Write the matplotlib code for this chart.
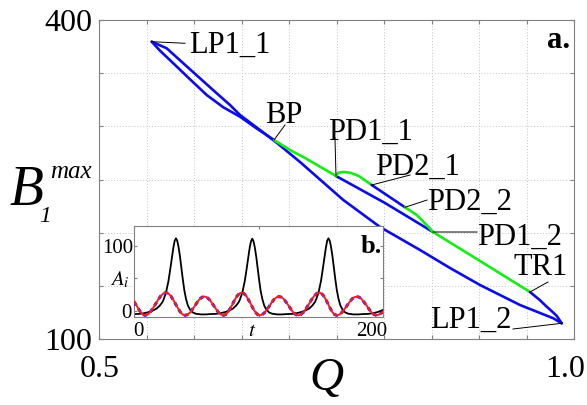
import matplotlib
matplotlib.use('Agg')
import matplotlib.pyplot as plt
from matplotlib.transforms import blended_transform_factory

plt.rcParams['font.family'] = ['Liberation Serif', 'DejaVu Serif']
plt.rcParams['mathtext.fontset'] = 'stix'

# ---------------- main panel data (Q, B1max) ----------------
# upper path: LP1_1 -> BP (blue)
up1_Q = [0.55547, 0.56421, 0.57821, 0.59579, 0.61337, 0.63084, 0.64842, 0.66526, 0.68421]
up1_B = [379.59, 371.13, 359.28, 344.23, 329.47, 317.90, 309.06, 298.43, 287.15]
# BP -> PD1_1 (green)
up2_Q = [0.68421, 0.70105, 0.71684, 0.74947]
up2_B = [287.15, 277.74, 270.22, 253.29]
# PD1_1 -> PD1_2 (blue)
up3_Q = [0.74947, 0.80105, 0.85158]
up3_B = [253.29, 227.90, 200.63]
# PD1_2 -> TR1 (green)
up4_Q = [0.85158, 0.90105, 0.95368]
up4_B = [200.63, 173.35, 144.20]
# TR1 -> LP1_2 (blue)
up5_Q = [0.95368, 0.96400, 0.97126, 0.97700, 0.98179, 0.98705]
up5_B = [144.20, 136.60, 130.38, 125.80, 121.80, 114.77]
# lower path LP1_1 -> LP1_2 (blue)
low_Q = [0.55547, 0.57126, 0.58874, 0.60632, 0.62389, 0.63789, 0.64842, 0.66947, 0.68737,
         0.71158, 0.75716, 0.79579, 0.83789, 0.86947, 0.90105, 0.94316, 0.97000, 0.97821, 0.98705]
low_B = [379.59, 373.39, 359.28, 345.17, 331.07, 320.06, 310.66, 296.55, 284.33,
         266.46, 230.72, 205.33, 183.70, 166.77, 150.78, 131.97, 122.40, 119.47, 114.77]
# period-doubled branch
pda_Q = [0.74947, 0.75189, 0.75716, 0.76421, 0.77295, 0.78705]
pda_B = [253.29, 256.39, 257.05, 256.39, 253.57, 244.83]
pdb_Q = [0.78705, 0.82211]
pdb_B = [244.83, 223.86]
pdc_Q = [0.82211, 0.83442, 0.84663, 0.85158]
pdc_B = [223.86, 216.61, 205.61, 200.63]

# labels: name, anchor point on curve, leader end, text position
label_names = ['LP1_1', 'BP', 'PD1_1', 'PD2_1', 'PD2_2', 'PD1_2', 'TR1', 'LP1_2']
label_pts = [(up1_Q[0], up1_B[0]), (up2_Q[0], up2_B[0]), (pda_Q[0], pda_B[0]),
             (pdb_Q[0], pdb_B[0]), (pdc_Q[0], pdc_B[0]), (up4_Q[0], up4_B[0]),
             (up5_Q[0], up5_B[0]), (up5_Q[-1], up5_B[-1])]
leader_end = [(0.5905, 378.1), (0.6958, 301.3), (0.7484, 289.0), (0.8274, 254.2),
              (0.8453, 230.7), (0.8979, 200.6), (0.9726, 153.6), (0.9358, 109.4)]
text_pos = [(0.5947, 369.3), (0.6747, 303.1), (0.7411, 287.2), (0.7905, 254.2),
            (0.8453, 221.3), (0.8979, 188.4), (0.9358, 160.2), (0.8484, 110.4)]

# ---------------- inset data (t, A_i) ----------------
black_t = [0, 3.7, 7.7, 11.7, 15.2, 18.2, 20.7, 22.7, 23.7, 25.7, 27.7, 29.2, 30.7, 31.7, 32.7,
           33.7, 34.7, 35.7, 36.9, 38.0, 39.1, 40.4, 41.8, 43.3, 45.0, 47.2, 49.7, 53.7, 57.7, 61.3,
           65.0, 69.0, 73.0, 76.5, 79.5, 82.0, 84.0, 85.0, 87.0, 89.0, 90.5, 92.0, 93.0, 94.0,
           95.0, 96.0, 97.0, 98.2, 99.3, 100.4, 101.7, 103.1, 104.6, 106.3, 108.5, 111.0, 115.0,
           119.0, 122.6,
           126.2, 130.2, 134.2, 137.7, 140.7, 143.2, 145.2, 146.2, 148.2, 150.2, 151.7, 153.2,
           154.2, 155.2, 156.2, 157.2, 158.2, 159.4, 160.5, 161.6, 162.9, 164.3, 165.8, 167.5,
           169.7, 172.2, 176.2, 180.2, 183.8,
           187.5, 191.5, 195.5, 199.0, 200.0]
black_v = [-5, -4.8, -3.8, -2, 0.5, 3.5, 8, 13, 17, 28, 46, 65, 85, 98, 108,
           111.5, 108, 99, 84, 67, 50, 32, 18, 8, 2, -2.5, -4.5, -5.5, -5.5, -5,
           -4.8, -3.8, -2, 0.5, 3.5, 8, 13, 17, 28, 46, 65, 85, 98, 107,
           111, 107, 98, 83, 66, 49, 31, 18, 8, 2, -2.5, -4.5, -5.5,
           -5.5, -5,
           -4.8, -3.8, -2, 0.5, 3.5, 8, 13, 17, 28, 46, 65, 85,
           98, 108, 111.5, 108, 99, 84, 67, 50, 32, 18, 8, 2,
           -2.5, -4.5, -5.5, -5.5, -5,
           -4.8, -3.8, -2, 0.5, 1.5]
red_t = [0, 2.2, 4.4, 6.6, 8.8,
         10.9, 13.0, 15.1, 17.3, 19.4, 21.5, 23.6, 25.7,
         27.6, 29.5, 31.4, 33.35, 35.3, 37.2, 39.1, 41.0,
         42.9, 44.9, 46.8, 48.8, 50.7, 52.6, 54.6, 56.5,
         58.4, 60.3, 62.2, 64.2, 66.1, 68.0, 69.9, 71.8,
         73.6, 75.5, 77.3, 79.2, 81.0, 82.8, 84.7, 86.5,
         88.3, 90.1, 91.9, 93.8, 95.6, 97.4, 99.2, 101.0,
         102.9, 104.9, 106.8, 108.8, 110.7, 112.6, 114.6, 116.5,
         118.4, 120.4, 122.3, 124.3, 126.2, 128.1, 130.1, 132.0,
         134.1, 136.2, 138.3, 140.5, 142.6, 144.7, 146.8, 148.9,
         150.6, 152.4, 154.1, 155.9, 157.6, 159.3, 161.1, 162.8,
         164.8, 166.8, 168.8, 170.9, 172.9, 174.9, 176.9, 178.9,
         180.9, 182.9, 184.9, 187.0, 189.0, 191.0, 193.0, 195.0,
         197.5, 200.0]
red_v = [14, 7.5, 0.5, -5, -7,
         -5.7, -1.9, 3.8, 10.5, 17.2, 22.9, 26.7, 28,
         26.7, 22.9, 17.2, 10.5, 3.8, -1.9, -5.7, -7,
         -5.9, -2.8, 2.0, 7.5, 13.0, 17.8, 20.9, 22,
         20.9, 17.8, 13.0, 7.5, 2.0, -2.8, -5.9, -7,
         -5.7, -1.9, 3.8, 10.5, 17.2, 22.9, 26.7, 28,
         26.7, 22.9, 17.2, 10.5, 3.8, -1.9, -5.7, -7,
         -5.9, -2.8, 2.0, 7.5, 13.0, 17.8, 20.9, 22,
         20.9, 17.8, 13.0, 7.5, 2.0, -2.8, -5.9, -7,
         -5.7, -1.9, 3.8, 10.5, 17.2, 22.9, 26.7, 28,
         26.7, 22.9, 17.2, 10.5, 3.8, -1.9, -5.7, -7,
         -5.9, -2.8, 2.0, 7.5, 13.0, 17.8, 20.9, 22,
         20.9, 17.8, 13.0, 7.5, 2.0, -2.8, -5.9, -7,
         -5, -1.5]
blue_t = red_t   # blue dashed series coincides with red
blue_v = red_v

# tick positions
main_xticks = [0.5, 0.55, 0.6, 0.65, 0.7, 0.75, 0.8, 0.85, 0.9, 0.95, 1.0]
main_yticks = [100, 150, 200, 250, 300, 350, 400]
main_ylabels = ['100', '', '', '', '', '', '400']

BLUE = '#0b0bee'
GREEN = '#14ee14'
GRAY = '#808080'

fig = plt.figure(figsize=(5.87, 4.05), dpi=100)
ax = fig.add_axes([99/587, 1-339/405, 475/587, 319/405])
ax.set_xlim(0.5, 1.0)
ax.set_ylim(100, 400)
ax.set_xticks(main_xticks)
ax.set_xticklabels([])
ax.set_yticks(main_yticks)
ax.set_yticklabels(main_ylabels)
ax.grid(True, linestyle=(0, (1, 2)), color='#c4c4c4', linewidth=0.7)
ax.tick_params(direction='in', length=3, color=GRAY, top=True, right=True,
               labelsize=23, pad=5)
for s in ax.spines.values():
    s.set_color(GRAY)

lw = 1.9
for q, b, c in [(low_Q, low_B, BLUE), (up1_Q, up1_B, BLUE), (up2_Q, up2_B, GREEN),
                (up3_Q, up3_B, BLUE), (up4_Q, up4_B, GREEN), (up5_Q, up5_B, BLUE),
                (pda_Q, pda_B, GREEN), (pdb_Q, pdb_B, BLUE), (pdc_Q, pdc_B, GREEN)]:
    ax.plot(q, b, color=c, lw=lw, solid_capstyle='round', solid_joinstyle='round')

for name, p, e, tp in zip(label_names, label_pts, leader_end, text_pos):
    ax.plot([p[0], e[0]], [p[1], e[1]], color='black', lw=0.7)
    ax.text(tp[0], tp[1], name, fontsize=22, ha='left', va='baseline')

# x tick labels (custom placement)
bt = blended_transform_factory(ax.transData, ax.transAxes)
ax.text(0.501, -0.119, '0.5', transform=bt, fontsize=23, ha='center', va='baseline')
ax.text(0.9905, -0.119, '1.0', transform=bt, fontsize=23, ha='center', va='baseline')

ax.text(0.9916, 0.912, 'a.', transform=ax.transAxes, fontsize=22, weight='bold',
        ha='right', va='baseline')

# axis labels
fig.text(326/587, 1-390/405, 'Q', fontsize=34, style='italic', ha='center', va='baseline')
fig.text(9/587, 1-205/405, 'B', fontsize=40, style='italic', ha='left', va='baseline')
fig.text(39/587, 1-222/405, '1', fontsize=17, style='italic', ha='left', va='baseline')
fig.text(50/587, 1-178/405, 'max', fontsize=18, style='italic', ha='left', va='baseline')

# ---------------- inset ----------------
axi = fig.add_axes([134/587, 1-317/405, 249/587, 91/405])
axi.set_xlim(0, 200)
axi.set_ylim(-9.5, 130.5)
axi.plot(black_t, black_v, color='black', lw=1.3, zorder=2)
axi.plot(blue_t, blue_v, color='#1a1aff', lw=2.2, linestyle=(0, (1.4, 1.2)), zorder=3)
axi.plot(red_t, red_v, color='#ff1a1a', lw=1.4, zorder=4)
axi.set_xticks([0, 100, 200])
axi.set_yticks([0, 50, 100])
axi.set_xticklabels([])
axi.set_yticklabels([])
axi.tick_params(direction='in', length=2.5, color=GRAY, top=True, right=True)
for s in axi.spines.values():
    s.set_color(GRAY)

bti = blended_transform_factory(axi.transData, axi.transAxes)
ybase = (317 - 336) / 91
axi.text(3.2, ybase, '0', transform=bti, fontsize=15, ha='center', va='baseline')
axi.text(94.8, ybase, r'$t$', transform=bti, fontsize=15, ha='center', va='baseline')
axi.text(191.2, ybase, '200', transform=bti, fontsize=15, ha='center', va='baseline')
bty = blended_transform_factory(axi.transAxes, axi.transData)
axi.text(-0.004, 100, '100', transform=bty, fontsize=15, ha='right', va='center_baseline')
axi.text(-0.016, 51, r'$A_i$', transform=bty, fontsize=15, ha='right', va='center_baseline')
axi.text(-0.008, 0, '0', transform=bty, fontsize=15, ha='right', va='center_baseline')
axi.text(0.996, 0.703, 'b.', transform=axi.transAxes, fontsize=19, weight='bold',
         ha='right', va='baseline')

fig.savefig('out.png', dpi=100)
